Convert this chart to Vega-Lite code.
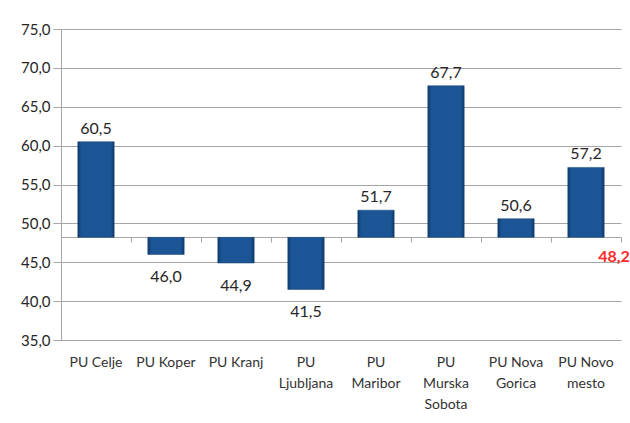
{
  "$schema": "https://vega.github.io/schema/vega-lite/v6.json",
  "width": 560,
  "height": 311,
  "autosize": "none",
  "padding": {"left": 61, "top": 29, "right": 9, "bottom": 83},
  "background": "white",
  "config": {
    "view": {"stroke": null},
    "font": "Lato",
    "axis": {"labelFont": "Lato", "labelColor": "#333333"},
    "locale": {"number": {"decimal": ",", "thousands": ".", "grouping": [3], "currency": ["", " €"]}}
  },
  "data": {
    "values": [
      {"uprava": "PU Celje", "value": 60.5},
      {"uprava": "PU Koper", "value": 46.0},
      {"uprava": "PU Kranj", "value": 44.9},
      {"uprava": "PU Ljubljana", "value": 41.5},
      {"uprava": "PU Maribor", "value": 51.7},
      {"uprava": "PU Murska Sobota", "value": 67.7},
      {"uprava": "PU Nova Gorica", "value": 50.6},
      {"uprava": "PU Novo mesto", "value": 57.2}
    ]
  },
  "layer": [
    {
      "mark": {
        "type": "bar",
        "width": {"band": 0.52},
        "color": {
          "gradient": "linear",
          "x1": 0, "y1": 0, "x2": 1, "y2": 0,
          "stops": [
            {"offset": 0, "color": "#0f3a6b"},
            {"offset": 0.1, "color": "#1b5595"},
            {"offset": 0.9, "color": "#1b5595"},
            {"offset": 1, "color": "#0f3a6b"}
          ]
        },
        "stroke": "#163f70",
        "strokeWidth": 0.5
      },
      "encoding": {
        "x": {
          "field": "uprava",
          "type": "nominal",
          "sort": null,
          "scale": {"paddingInner": 0, "paddingOuter": 0},
          "axis": {
            "title": null,
            "orient": "bottom",
            "labelAngle": 0,
            "domain": false,
            "ticks": false,
            "grid": false,
            "labelFontSize": 14,
            "labelPadding": 15,
            "labelLineHeight": 21,
            "labelBaseline": "top",
            "labelExpr": "datum.value == 'PU Murska Sobota' ? ['PU', 'Murska', 'Sobota'] : datum.value == 'PU Nova Gorica' ? ['PU Nova', 'Gorica'] : datum.value == 'PU Novo mesto' ? ['PU Novo', 'mesto'] : datum.value == 'PU Ljubljana' ? ['PU', 'Ljubljana'] : datum.value == 'PU Maribor' ? ['PU', 'Maribor'] : datum.value"
          }
        },
        "y": {
          "field": "value",
          "type": "quantitative",
          "scale": {"domain": [35, 75], "nice": false, "zero": false},
          "axis": {
            "title": null,
            "values": [35, 40, 45, 50, 55, 60, 65, 70, 75],
            "format": ".1f",
            "labelFontSize": 15,
            "labelPadding": 3,
            "tickSize": 8,
            "tickColor": "#A6A6A6",
            "domainColor": "#A6A6A6",
            "gridColor": "#A6A6A6",
            "labelColor": "#262626"
          }
        },
        "y2": {"datum": 48.2}
      }
    },
    {
      "transform": [{"filter": "datum.value >= 48.2"}],
      "mark": {"type": "text", "fontSize": 16, "baseline": "alphabetic", "dy": -8, "color": "#262626"},
      "encoding": {
        "x": {"field": "uprava", "type": "nominal", "sort": null, "axis": null},
        "y": {"field": "value", "type": "quantitative", "axis": null},
        "text": {"field": "value", "type": "quantitative", "format": ".1f"}
      }
    },
    {
      "transform": [{"filter": "datum.value < 48.2"}],
      "mark": {"type": "text", "fontSize": 16, "baseline": "alphabetic", "dy": 28, "color": "#262626"},
      "encoding": {
        "x": {"field": "uprava", "type": "nominal", "sort": null, "axis": null},
        "y": {"field": "value", "type": "quantitative", "axis": null},
        "text": {"field": "value", "type": "quantitative", "format": ".1f"}
      }
    },
    {
      "data": {"values": [{"uprava": "PU Novo mesto", "base": 48.2}]},
      "mark": {"type": "text", "fontSize": 16, "fontWeight": "bold", "color": "#FF2A2A", "baseline": "alphabetic", "dy": 25},
      "encoding": {
        "x": {
          "field": "uprava",
          "type": "nominal",
          "sort": null,
          "bandPosition": 0.9,
          "axis": {
            "title": null,
            "orient": "bottom",
            "offset": -103,
            "labels": false,
            "grid": false,
            "domain": true,
            "domainColor": "#A6A6A6",
            "ticks": true,
            "tickColor": "#A6A6A6",
            "tickSize": 5,
            "tickBand": "extent"
          }
        },
        "y": {"field": "base", "type": "quantitative", "axis": null},
        "text": {"field": "base", "type": "quantitative", "format": ".1f"}
      }
    }
  ],
  "resolve": {"axis": {"x": "independent", "y": "independent"}}
}
